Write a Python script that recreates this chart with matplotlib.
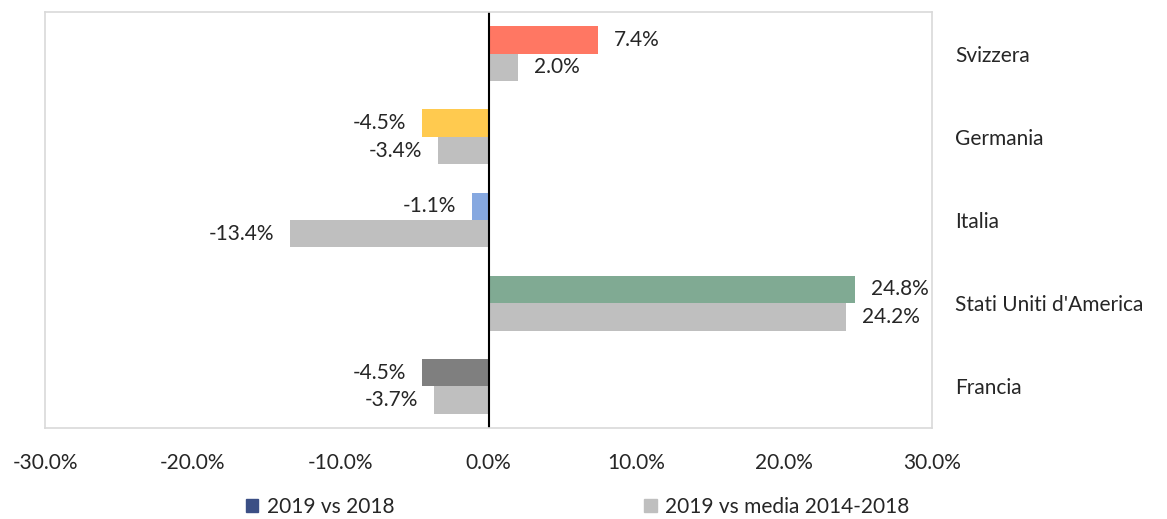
import matplotlib.pyplot as plt
import matplotlib.patches as mpatches
import numpy as np

plt.rcParams['font.family'] = ['Lato', 'DejaVu Sans']

paesi = ['Svizzera', 'Germania', 'Italia', "Stati Uniti d'America", 'Francia']
vs_2018 = [7.4, -4.5, -1.1, 24.8, -4.5]
vs_media = [2.0, -3.4, -13.4, 24.2, -3.7]
colori = ['#FF7763', '#FFCA4F', '#86A8E0', '#80AA93', '#7F7F7F']
grigio = '#BFBFBF'
tick_x = [-30, -20, -10, 0, 10, 20, 30]
legenda = ['2019 vs 2018', '2019 vs media 2014-2018']

fig = plt.figure(figsize=(11.67, 5.19), dpi=100)
ax = fig.add_axes([45/1167, 1 - 428/519, 887/1167, 416/519])

y = np.arange(len(paesi))
h = 0.33
ax.barh(y - h/2, vs_2018, height=h, color=colori)
ax.barh(y + h/2, vs_media, height=h, color=grigio)

txt = '#262626'
for yy, v in zip(y - h/2, vs_2018):
    off = 11.5 if v >= 0 else -11.5
    ax.annotate(f'{v:.1f}%', (v, yy), xytext=(off, 0), textcoords='offset points',
                ha='left' if v >= 0 else 'right', va='center', fontsize=15, color=txt)
for yy, v in zip(y + h/2, vs_media):
    off = 11.5 if v >= 0 else -11.5
    ax.annotate(f'{v:.1f}%', (v, yy), xytext=(off, 0), textcoords='offset points',
                ha='left' if v >= 0 else 'right', va='center', fontsize=15, color=txt)

ax.axvline(0, color='black', linewidth=1.5)
ax.set_xlim(-30, 30)
ax.set_ylim(len(paesi) - 0.5, -0.5)
ax.set_xticks(tick_x)
ax.set_xticklabels([f'{t:.1f}%' for t in tick_x], fontsize=15, color=txt)
ax.set_yticks(y)
ax.set_yticklabels(paesi, fontsize=15, color=txt)
ax.yaxis.tick_right()
ax.tick_params(axis='y', length=0, pad=16.5)
ax.tick_params(axis='x', length=0, pad=18)
for s in ax.spines.values():
    s.set_color('#D9D9D9')
    s.set_linewidth(1.2)

handles = [mpatches.Patch(color='#3B4F85'), mpatches.Patch(color=grigio)]
leg = fig.legend(handles, legenda, loc='center', bbox_to_anchor=(0.495, 1 - 507/519),
                 ncol=2, frameon=False, handlelength=0.6, handleheight=0.6,
                 handletextpad=0.4, columnspacing=12.0, prop={'size': 15})
for t in leg.get_texts():
    t.set_color(txt)

fig.savefig('out.png', dpi=100)
